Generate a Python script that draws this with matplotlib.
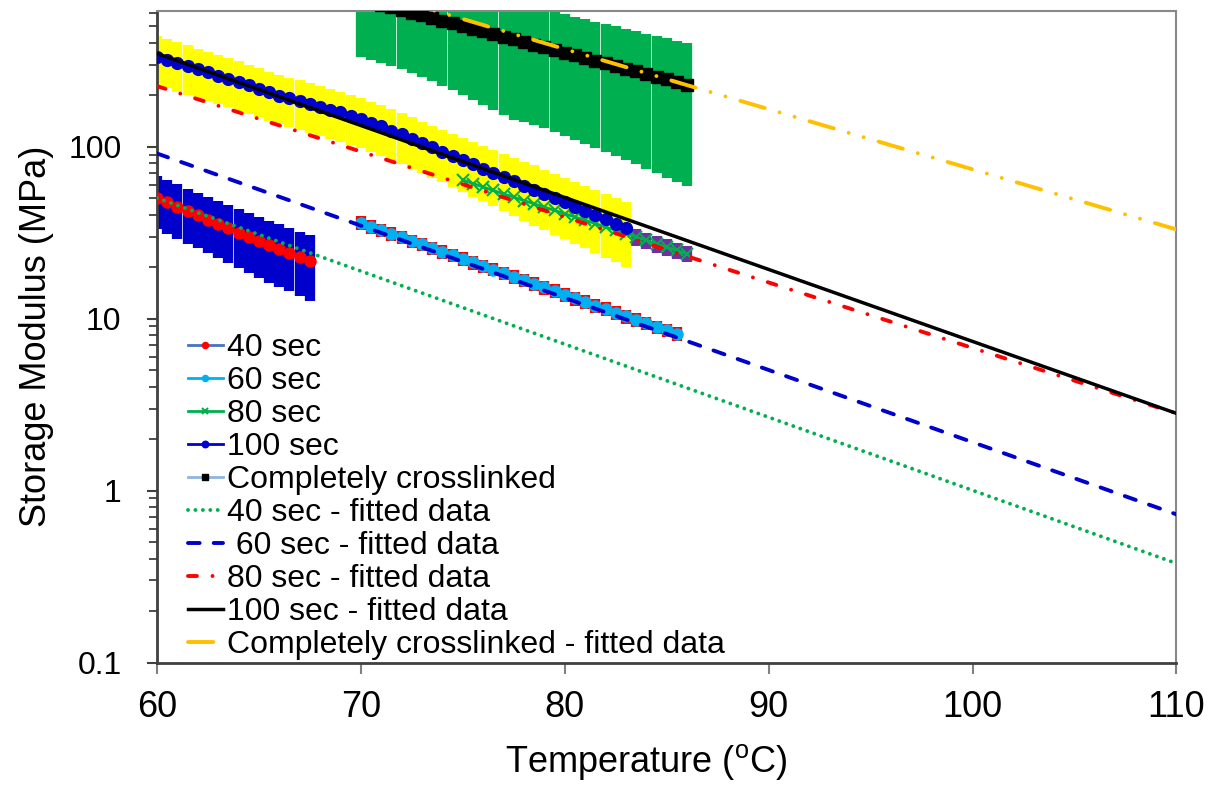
import numpy as np
import matplotlib
matplotlib.use('Agg')
from matplotlib import pyplot as plt

plt.rcParams['font.family'] = ['Liberation Sans', 'DejaVu Sans']
plt.rcParams['mathtext.fontset'] = 'custom'
plt.rcParams['mathtext.rm'] = 'Liberation Sans'

t40 = np.arange(60.0, 67.75, 0.5)
e40 = [50.3, 47.5, 44.8, 42.2, 39.8, 37.6, 35.5, 33.5, 31.6, 29.8, 28.2, 26.7, 25.3, 24.0, 22.8, 21.6]
err40 = [17.0, 16.3, 15.6, 14.9, 14.2, 13.6, 13.0, 12.4, 11.9, 11.4, 10.9, 10.5, 10.0, 9.6, 9.2, 8.9]

t60 = np.arange(70.0, 85.75, 0.5)
e60 = [36.0, 34.3, 32.7, 31.2, 29.7, 28.3, 27.0, 25.7, 24.5, 23.4, 22.3, 21.2, 20.2, 19.3, 18.4, 17.5,
       16.7, 15.9, 15.2, 14.5, 13.8, 13.1, 12.5, 11.9, 11.4, 10.8, 10.3, 9.85, 9.4, 8.95, 8.55, 8.15]
err60 = [3.3, 3.1, 2.9, 2.8, 2.7, 2.5, 2.4, 2.3, 2.2, 2.1, 2.0, 1.9, 1.8, 1.7, 1.65, 1.6,
         1.5, 1.45, 1.4, 1.3, 1.25, 1.2, 1.15, 1.1, 1.05, 1.0, 0.95, 0.9, 0.85, 0.8, 0.78, 0.75]

t80 = np.arange(75.0, 86.25, 0.5)
e80 = [64.0, 61.0, 58.2, 55.6, 53.1, 50.8, 48.6, 46.5, 44.5, 42.6, 40.7, 39.0, 37.3, 35.7, 34.1, 32.6,
       31.2, 29.8, 28.5, 27.2, 26.0, 24.9, 23.8]
err80 = [7.0, 6.7, 6.4, 6.1, 5.8, 5.6, 5.3, 5.1, 4.9, 4.7, 4.5, 4.3, 4.1, 3.9, 3.75, 3.6,
         3.4, 3.3, 3.1, 3.0, 2.9, 2.7, 2.6]

t100 = np.arange(60.0, 83.25, 0.5)
e100 = [334, 320, 307, 294, 282, 270, 259, 248, 237, 227, 217, 207, 198, 191, 184, 177,
        171, 164, 158, 151, 145, 138, 131, 124, 118, 111, 105, 99, 93.5, 88.4, 83.5, 78.9,
        74.5, 70.4, 66.5, 62.9, 59.4, 56.2, 53.1, 50.2, 47.4, 44.8, 42.4, 40.0, 37.8, 35.7, 33.7]
err100 = [107, 102, 98, 94, 90, 86, 83, 79, 76, 73, 69, 66, 63, 61, 59, 57,
          55, 53, 51, 49, 47, 45, 43, 41, 39, 37, 35, 33, 31.5, 30, 29, 28,
          26.5, 25.5, 24.5, 23.5, 22.5, 21.5, 20.5, 19.5, 18.5, 17.5, 16.8, 16, 15.2, 14.4, 13.8]

tcc = np.arange(70.0, 86.25, 0.5)
ecc = [719, 694, 669, 646, 623, 601, 580, 560, 540, 521, 503, 485, 468, 452, 436, 420,
       406, 391, 378, 364, 351, 339, 327, 316, 305, 294, 284, 274, 264, 255, 246, 237, 229]
errcc = [385, 374, 363, 351, 341, 334, 326, 320, 314, 308, 303, 298, 294, 289, 283, 278,
         266, 258, 250, 243, 236, 230, 224, 218, 212, 206, 200, 195, 190, 185, 180, 175, 170]

# fitted lines, values at 60 and 110 degC
t_fit = [60, 110]
fit40 = [50.3, 0.377]
fit60 = [91.3, 0.727]
fit80 = [225, 2.81]
fit100 = [348, 2.81]
fitcc = [1849, 33.0]

fig = plt.figure(figsize=(12.11, 7.86), dpi=100)
ax = fig.add_axes([0.1296, 0.1571, 0.8419, 0.8289])

# error bars first (drawn under the data)
ebw = 7.4
ax.errorbar(t40, e40, yerr=err40, fmt='none', ecolor='#0000CC', elinewidth=ebw, zorder=1)
ax.errorbar(t60, e60, yerr=err60, fmt='none', ecolor='#FF0000', elinewidth=ebw, zorder=1)
ax.errorbar(t80, e80, yerr=err80, fmt='none', ecolor='#7030A0', elinewidth=ebw, zorder=1)
ax.errorbar(t100, e100, yerr=err100, fmt='none', ecolor='#FFFF00', elinewidth=ebw, zorder=1)
ax.errorbar(tcc, ecc, yerr=errcc, fmt='none', ecolor='#00B050', elinewidth=ebw, zorder=1)

# data
ax.plot(t40, e40, color='#4472C4', lw=2, marker='o', ms=8, mfc='#FF0000', mec='#FF0000', label='40 sec', zorder=3)
ax.plot(t60, e60, color='#00B0F0', lw=2, marker='o', ms=8, mfc='#00B0F0', mec='#00B0F0', label='60 sec', zorder=3)
ax.plot(t80, e80, color='#00B050', lw=2, marker='x', ms=9, mew=1.5, label='80 sec', zorder=3)
ax.plot(t100, e100, color='#0000CC', lw=2, marker='o', ms=8.5, mfc='#0000CC', mec='#0000CC', label='100 sec', zorder=3)
ax.plot(tcc, ecc, color='#8DB4E2', lw=2, marker='s', ms=8.5, mfc='black', mec='black', label='Completely crosslinked', zorder=3)

# fits
lw = 2.8
ax.plot(t_fit, fit40, color='#00B050', lw=lw, ls=(0, (0.01, 1.9)), dash_capstyle='round',
        label='40 sec - fitted data', zorder=4)
ax.plot(t_fit, fit60, color='#0000CC', lw=lw, ls=(0, (3.0, 3.6)), dash_capstyle='round',
        label=' 60 sec - fitted data', zorder=4)
ax.plot(t_fit, fit80, color='#FF0000', lw=lw, ls=(0, (2.3, 4.0, 0.01, 4.0)), dash_capstyle='round',
        label='80 sec - fitted data', zorder=4)
ax.plot(t_fit, fit100, color='black', lw=2.5, label='100 sec - fitted data', zorder=4)
ax.plot(t_fit, fitcc, color='#FFC000', lw=lw, ls=(0, (6.5, 4.0, 0.01, 4.0, 0.01, 4.0)), dash_capstyle='round',
        label='Completely crosslinked - fitted data', zorder=4)

ax.set_yscale('log')
ax.set_xlim(60, 110)
ax.set_ylim(0.1, 615)
ax.set_xticks([60, 70, 80, 90, 100, 110])
ax.set_yticks([0.1, 1, 10, 100])
ax.set_yticklabels(['0.1', '1', '10', '100'])

for s in ['left', 'bottom']:
    ax.spines[s].set_color('#404040')
    ax.spines[s].set_linewidth(2)
for s in ['top', 'right']:
    ax.spines[s].set_color('#888888')
    ax.spines[s].set_linewidth(1.5)

ax.tick_params(axis='x', which='major', direction='out', length=8, width=1.5, color='#808080',
               labelsize=26, pad=12)
ax.tick_params(axis='y', which='major', direction='out', length=7.5, width=1.5, color='#404040',
               labelsize=23, pad=18)
ax.tick_params(axis='y', which='minor', direction='out', length=6, width=1.3, color='#404040')

ax.set_xlabel('Temperature ($^{\\mathrm{o}}$C)', fontsize=26)
ax.xaxis.set_label_coords(0.48, -0.122)
ax.set_ylabel('Storage Modulus (MPa)', fontsize=26, labelpad=10)

ax.legend(loc='upper left', bbox_to_anchor=(0.03, 0.506), frameon=False, fontsize=23,
          borderpad=0, borderaxespad=0, handlelength=1.1, handletextpad=0.15,
          labelspacing=0.095, markerscale=0.55)

fig.savefig('out.png', dpi=100)
